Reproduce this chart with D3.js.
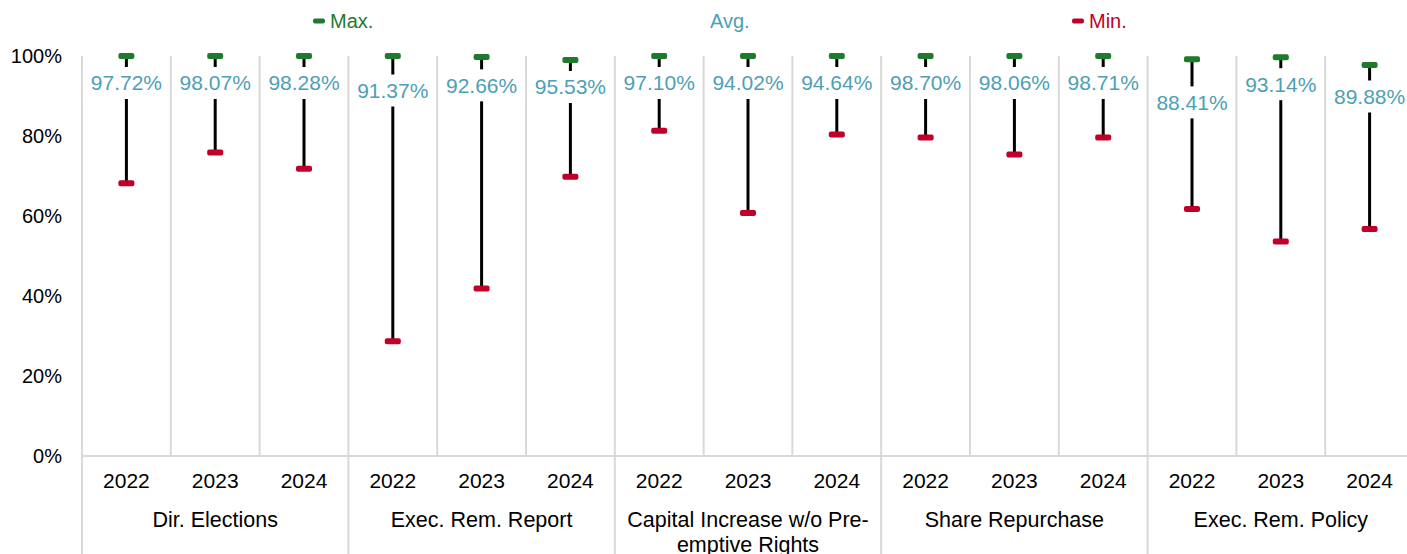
<!DOCTYPE html>
<html>
<head>
<meta charset="utf-8">
<script src="https://cdn.jsdelivr.net/npm/d3@7"></script>
<style>
html,body{margin:0;padding:0;background:#fff;}
svg{display:block;font-family:"Liberation Sans",Arial,sans-serif;}
</style>
</head>
<body>
<svg id="chart" width="1407" height="554"></svg>
<script>
const groups = ["Dir. Elections", "Exec. Rem. Report", "Capital Increase w/o Pre-emptive Rights", "Share Repurchase", "Exec. Rem. Policy"];
const years = ["2022", "2023", "2024"];
const maxVals = [100, 100, 100, 100, 99.75, 99.0, 100, 100, 100, 100, 100, 100, 99.2, 99.7, 97.75];
const avgVals = [97.72, 98.07, 98.28, 91.37, 92.66, 95.53, 97.10, 94.02, 94.64, 98.70, 98.06, 98.71, 88.41, 93.14, 89.88];
const minVals = [68.2, 75.9, 71.8, 28.7, 41.9, 69.8, 81.3, 60.75, 80.4, 79.6, 75.4, 79.6, 61.75, 53.6, 56.75];
const yTicks = [0, 20, 40, 60, 80, 100];
const seriesNames = ["Max.", "Avg.", "Min."];

const colMax = "#1f7a2d", colMin = "#c00028", colAvg = "#4d9fb6", grid = "#d9d9d9";

const svg = d3.select("#chart");
const plotL = 82, plotT = 56, plotB = 456, bandW = 88.8;
const rows = [];
groups.forEach((g, gi) => years.forEach((yr, yi) => {
  const i = gi * 3 + yi;
  rows.push({key: gi + "-" + yr, group: g, gi, year: yr, max: maxVals[i], avg: avgVals[i], min: minVals[i]});
}));

const x = d3.scaleBand().domain(rows.map(d => d.key)).range([plotL, plotL + bandW * rows.length]).paddingInner(0).paddingOuter(0);
const y = d3.scaleLinear().domain([0, 100]).range([plotB, plotT]);

// vertical gridlines
const gl = svg.append("g");
rows.forEach((d, i) => {
  const xx = x(d.key);
  const isGroup = i % 3 === 0;
  gl.append("line").attr("x1", xx).attr("x2", xx).attr("y1", plotT).attr("y2", isGroup ? 554 : plotB)
    .attr("stroke", grid).attr("stroke-width", 2);
});
const xEnd = plotL + bandW * rows.length;
gl.append("line").attr("x1", xEnd).attr("x2", xEnd).attr("y1", plotT).attr("y2", 554).attr("stroke", grid).attr("stroke-width", 2);
gl.append("line").attr("x1", plotL).attr("x2", xEnd).attr("y1", plotB).attr("y2", plotB).attr("stroke", grid).attr("stroke-width", 2);

// y axis labels
const ya = svg.append("g").attr("transform", `translate(${plotL},0)`)
  .call(d3.axisLeft(y).tickValues(yTicks).tickFormat(d => d + "%").tickSize(0).tickPadding(20));
ya.select(".domain").remove();
ya.selectAll("text").attr("font-size", 20).attr("fill", "#000").attr("font-family", "Liberation Sans, Arial, sans-serif");

// year labels
const xa = svg.append("g").attr("transform", `translate(0,${plotB})`)
  .call(d3.axisBottom(x).tickFormat(k => rows.find(r => r.key === k).year).tickSize(0).tickPadding(17));
xa.select(".domain").remove();
xa.selectAll("text").attr("font-size", 21).attr("fill", "#000").attr("font-family", "Liberation Sans, Arial, sans-serif");

// group labels
const wrapMap = {"Capital Increase w/o Pre-emptive Rights": ["Capital Increase w/o Pre-", "emptive Rights"]};
groups.forEach((g, gi) => {
  const gx = x(gi + "-2023") + x.bandwidth() / 2;
  const lines = wrapMap[g] || [g];
  const t = svg.append("text").attr("x", gx).attr("y", 527).attr("text-anchor", "middle")
    .attr("font-size", 21.5).attr("fill", "#000");
  lines.forEach((ln, li) => t.append("tspan").attr("x", gx).attr("dy", li === 0 ? 0 : 25).text(ln));
});

// range lines
const cxf = d => x(d.key) + x.bandwidth() / 2;
svg.append("g").selectAll("line").data(rows).join("line")
  .attr("x1", cxf).attr("x2", cxf).attr("y1", d => y(d.max)).attr("y2", d => y(d.min))
  .attr("stroke", "#000").attr("stroke-width", 3);

// markers
const mw = 16, mh = 6;
svg.append("g").selectAll("rect").data(rows).join("rect")
  .attr("x", d => cxf(d) - mw / 2).attr("y", d => y(d.max) - mh / 2).attr("width", mw).attr("height", mh)
  .attr("rx", 2).attr("fill", colMax);
svg.append("g").selectAll("rect").data(rows).join("rect")
  .attr("x", d => cxf(d) - mw / 2).attr("y", d => y(d.min) - mh / 2).attr("width", mw).attr("height", mh)
  .attr("rx", 2).attr("fill", colMin);

// avg labels with white boxes
const lg = svg.append("g");
rows.forEach(d => {
  const ly = Math.max(y(d.avg), y(d.max) + 27);
  const txt = d.avg.toFixed(2) + "%";
  const t = lg.append("text").attr("x", cxf(d)).attr("y", ly).attr("dy", "0.35em").attr("text-anchor", "middle")
    .attr("font-size", 21).attr("fill", colAvg).text(txt);
  const bb = t.node().getBBox();
  lg.insert("rect", () => t.node()).attr("x", bb.x - 3).attr("y", ly - 16).attr("width", bb.width + 6).attr("height", 32).attr("fill", "#fff");
});

// legend
const legX = [313, 693, 1072];
const legColors = [colMax, null, colMin];
seriesNames.forEach((s, i) => {
  if (legColors[i]) svg.append("rect").attr("x", legX[i]).attr("y", 18.5).attr("width", 12).attr("height", 5).attr("rx", 2).attr("fill", legColors[i]);
  svg.append("text").attr("x", legX[i] + 17).attr("y", 21).attr("dy", "0.35em").attr("font-size", 20)
    .attr("fill", i === 0 ? colMax : i === 1 ? colAvg : colMin).text(s);
});
</script>
</body>
</html>
